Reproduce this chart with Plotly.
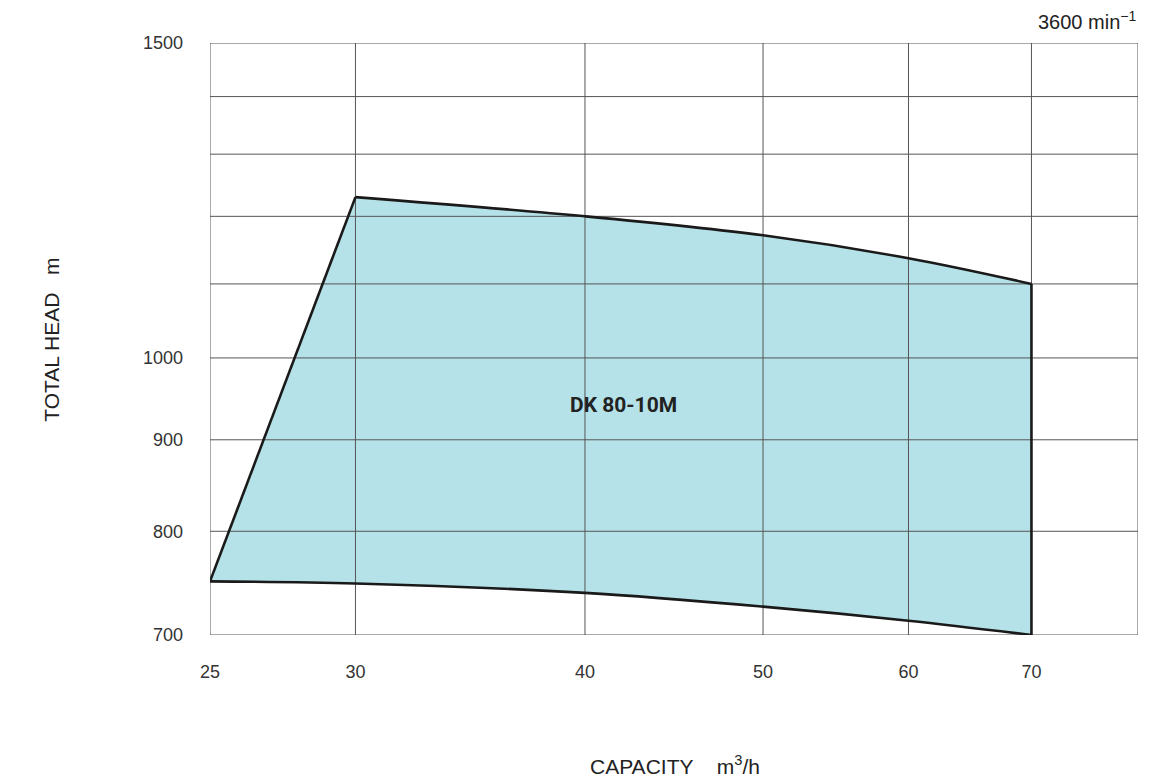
import plotly.graph_objects as go
import numpy as np

# Operating envelope of DK 80-10M (capacity m3/h, total head m)
top_q = [30, 40, 50, 60, 70]
top_h = [1230, 1200, 1171, 1137, 1100]
bot_q = [70, 60, 50, 40, 30, 25]
bot_h = [700, 713, 726, 739, 748, 750]
start_q, start_h = 25, 750

x_ticks = [25, 30, 40, 50, 60, 70]
y_grid = [700, 800, 900, 1000, 1100, 1200, 1300, 1400, 1500]
y_labels = {700: "700", 800: "800", 900: "900", 1000: "1000", 1500: "1500"}
x_range = [25, 80]
y_range = [700, 1500]

poly_q = [start_q] + top_q + bot_q
poly_h = [start_h] + top_h + bot_h

fig = go.Figure()
fig.add_trace(go.Scatter(x=poly_q, y=poly_h, mode="lines", fill="toself",
                         fillcolor="#b5e2e8", line=dict(width=0), hoverinfo="skip",
                         showlegend=False))
# grid lines drawn over fill
gx, gy = [], []
for q in x_ticks + [x_range[1]]:
    gx += [q, q, None]; gy += [y_range[0], y_range[1], None]
for h in y_grid:
    gx += [x_range[0], x_range[1], None]; gy += [h, h, None]
fig.add_trace(go.Scatter(x=gx, y=gy, mode="lines", line=dict(color="#555555", width=1),
                         hoverinfo="skip", showlegend=False, cliponaxis=False))
outline = dict(color="#1a1a1a", width=2.6)
fig.add_trace(go.Scatter(x=top_q, y=top_h, mode="lines", line=dict(shape="spline", **outline),
                         hoverinfo="skip", showlegend=False))
fig.add_trace(go.Scatter(x=bot_q, y=bot_h, mode="lines", line=dict(shape="spline", **outline),
                         hoverinfo="skip", showlegend=False))
fig.add_trace(go.Scatter(x=[bot_q[-1], top_q[0]], y=[bot_h[-1], top_h[0]], mode="lines",
                         line=outline, hoverinfo="skip", showlegend=False))
fig.add_trace(go.Scatter(x=[top_q[-1], bot_q[0]], y=[top_h[-1], bot_h[0]], mode="lines",
                         line=outline, hoverinfo="skip", showlegend=False))

fig.update_layout(
    width=1148, height=774,
    margin=dict(l=202, r=18, t=35, b=147),
    paper_bgcolor="white", plot_bgcolor="white",
    font=dict(family="Liberation Sans, Arial, sans-serif", color="#333333", size=18),
    xaxis=dict(type="log", range=[np.log10(x_range[0]), np.log10(x_range[1])],
               tickvals=x_ticks, ticktext=[str(v) for v in x_ticks],
               showgrid=False, zeroline=False, showline=False, ticks="",
               ticklabelstandoff=24),
    yaxis=dict(type="log", range=[np.log10(y_range[0]), np.log10(y_range[1])],
               tickvals=y_grid, ticktext=[y_labels.get(v, "") for v in y_grid],
               showgrid=False, zeroline=False, showline=False, ticks="",
               ticklabelstandoff=26),
    annotations=[
        dict(x=np.log10(42), y=np.log10(941), xref="x", yref="y", text="<b>DK 80-10M</b>",
             showarrow=False, font=dict(family="Roboto, Liberation Sans, sans-serif", size=21, color="#222222")),
        dict(x=1.0, y=1.038, xref="paper", yref="paper", xanchor="right", yanchor="middle",
             text="3600 min<sup>−1</sup>", showarrow=False, font=dict(size=20, color="#222222")),
        dict(x=-0.1853, y=0.498, xref="paper", yref="paper", textangle=-90,
             text="TOTAL HEAD&nbsp;&nbsp;&nbsp;m", showarrow=False, font=dict(size=21, color="#222222")),
        dict(x=0.501, y=-0.2196, xref="paper", yref="paper", yanchor="middle",
             text="CAPACITY&nbsp;&nbsp;&nbsp;&nbsp;m<sup>3</sup>/h", showarrow=False, font=dict(size=21, color="#222222")),
    ],
)
fig.write_html("out.html")
